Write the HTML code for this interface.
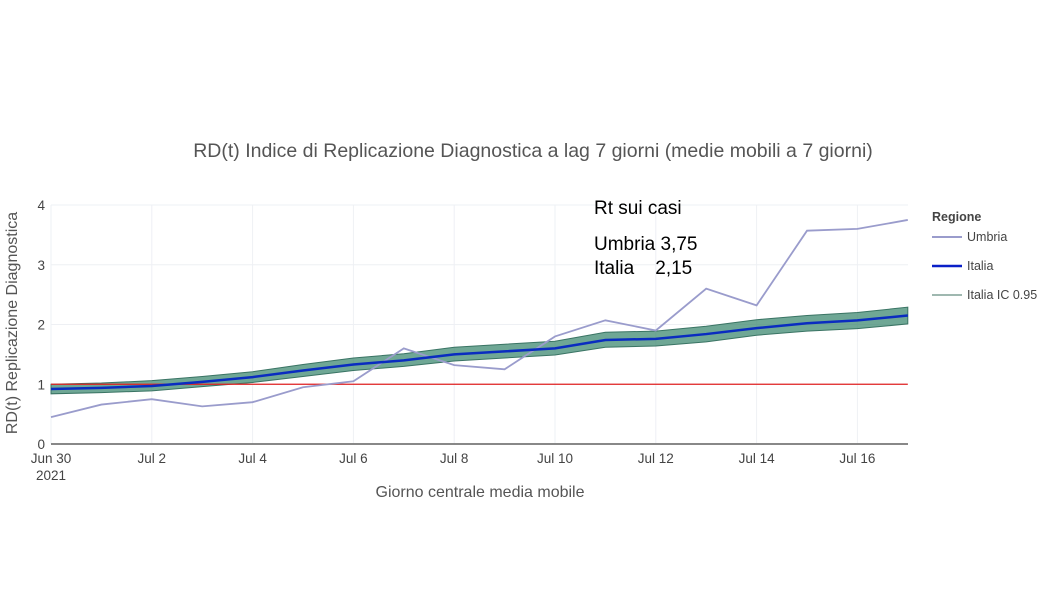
<!DOCTYPE html>
<html><head><meta charset="utf-8"><style>
body{margin:0;background:#fff;width:1055px;height:606px;overflow:hidden;font-family:"Liberation Sans",sans-serif}
svg text{font-family:"Liberation Sans",sans-serif}
</style></head><body>
<svg id="chart" width="1055" height="606" xmlns="http://www.w3.org/2000/svg">
<text x="533" y="157" text-anchor="middle" font-size="19.5" fill="#555">RD(t) Indice di Replicazione Diagnostica a lag 7 giorni (medie mobili a 7 giorni)</text>
<g id="grid"></g>
<g id="marks"></g>
<g id="axes"></g>
<text transform="translate(17,323) rotate(-90)" text-anchor="middle" font-size="16" fill="#555">RD(t) Replicazione Diagnostica</text>
<text x="480" y="497" text-anchor="middle" font-size="16" fill="#555">Giorno centrale media mobile</text>
<g font-size="19" fill="#000">
<text x="594" y="214">Rt sui casi</text>
<text x="594" y="250">Umbria 3,75</text>
<text x="594" y="274">Italia&#160;&#160;&#160;&#160;2,15</text>
</g>
<g font-size="12.5" fill="#444">
<text x="932" y="221" font-weight="bold">Regione</text>
<g><line x1="932" y1="237" x2="962" y2="237" stroke="#9a9ccc" stroke-width="2"/><text x="967" y="241">Umbria</text></g>
<g><line x1="932" y1="266" x2="962" y2="266" stroke="#0a20c8" stroke-width="2.5"/><text x="967" y="270">Italia</text></g>
<g><line x1="932" y1="295" x2="962" y2="295" stroke="#9fb8b0" stroke-width="2"/><text x="967" y="299">Italia IC 0.95</text></g>
</g>
</svg>
<script>
const days=[0,1,2,3,4,5,6,7,8,9,10,11,12,13,14,15,16,17];
const umbria=[0.45,0.66,0.75,0.63,0.7,0.95,1.05,1.6,1.32,1.25,1.8,2.07,1.9,2.6,2.32,3.57,3.6,3.75];
const italia=[0.92,0.94,0.97,1.04,1.12,1.23,1.33,1.4,1.5,1.55,1.6,1.74,1.76,1.84,1.94,2.02,2.07,2.15];
const icLow=[0.84,0.86,0.89,0.96,1.03,1.13,1.23,1.3,1.39,1.44,1.49,1.62,1.64,1.71,1.82,1.89,1.93,2.01];
const icHigh=[1.0,1.02,1.06,1.13,1.21,1.33,1.44,1.51,1.62,1.67,1.72,1.87,1.89,1.97,2.08,2.15,2.2,2.29];
const yTicks=[0,1,2,3,4];
const xTickDays=[0,2,4,6,8,10,12,14,16];
const xTickLabels=["Jun 30","Jul 2","Jul 4","Jul 6","Jul 8","Jul 10","Jul 12","Jul 14","Jul 16"];
const refLine=1;
const NS="http://www.w3.org/2000/svg";
const X=d=>51+d*50.4, Y=v=>444-v*59.75;
function mk(tag,attrs,parent){const e=document.createElementNS(NS,tag);for(const k in attrs)e.setAttribute(k,attrs[k]);parent.appendChild(e);return e;}
const grid=document.getElementById('grid'),marks=document.getElementById('marks'),axes=document.getElementById('axes');
yTicks.forEach(t=>{const l=mk('line',{x1:51,x2:908,y1:Y(t),y2:Y(t),stroke:'#eef0f4'},grid);

const tx=mk('text',{x:45,y:Y(t)+5,'text-anchor':'end','font-size':13.5,fill:'#444'},axes);tx.textContent=t;
});
xTickDays.forEach((d,i)=>{const l=mk('line',{x1:X(d),x2:X(d),y1:205,y2:444,stroke:'#eef0f4'},grid);

const tx=mk('text',{x:X(d),y:463,'text-anchor':'middle','font-size':13.5,fill:'#444'},axes);tx.textContent=xTickLabels[i];
});
const yr=mk('text',{x:X(0),y:480,'text-anchor':'middle','font-size':13.5,fill:'#444'},axes);yr.textContent='2021';

const ax=mk('line',{x1:51,x2:908,y1:444,y2:444,stroke:'#888','stroke-width':2},axes);

const pts=a=>a.map((v,i)=>X(days[i])+','+Y(v));
const band=mk('polygon',{points:pts(icHigh).concat(pts(icLow).reverse()).join(' '),fill:'#3f8a72','fill-opacity':0.75,stroke:'#3a7464','stroke-width':1},marks);

const rl=mk('line',{x1:X(0),x2:X(17),y1:Y(refLine),y2:Y(refLine),stroke:'#e02020','stroke-width':1.2},marks);

const um=mk('polyline',{points:pts(umbria).join(' '),fill:'none',stroke:'#9a9ccc','stroke-width':1.8},marks);

const it=mk('polyline',{points:pts(italia).join(' '),fill:'none',stroke:'#0a2cc0','stroke-width':2.5},marks);

</script>
</body></html>
